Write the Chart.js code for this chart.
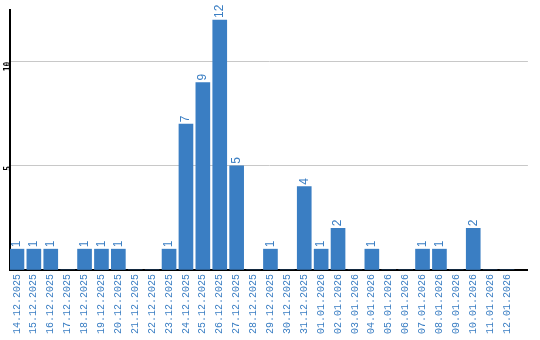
<!DOCTYPE html>
<html>
<head>
<meta charset="utf-8">
<script src="https://cdn.jsdelivr.net/npm/chart.js@4/dist/chart.umd.min.js"></script>
<style>
html,body{margin:0;padding:0;background:#fff;}
#wrap{width:540px;height:340px;position:relative;}
</style>
</head>
<body>
<div id="wrap"><canvas id="c" width="540" height="340"></canvas></div>
<script>
const categories = ["14.12.2025","15.12.2025","16.12.2025","17.12.2025","18.12.2025","19.12.2025","20.12.2025","21.12.2025","22.12.2025","23.12.2025","24.12.2025","25.12.2025","26.12.2025","27.12.2025","28.12.2025","29.12.2025","30.12.2025","31.12.2025","01.01.2026","02.01.2026","03.01.2026","04.01.2026","05.01.2026","06.01.2026","07.01.2026","08.01.2026","09.01.2026","10.01.2026","11.01.2026","12.01.2026"];
const values = [1,1,1,0,1,1,1,0,0,1,7,9,12,5,0,1,0,4,1,2,0,1,0,0,1,1,0,2,0,0];
const yTicks = [5,10];

const BLUE = '#3a7ec3';

const dataLabels = {
  id: 'dataLabels',
  afterDatasetsDraw(chart) {
    const ctx = chart.ctx;
    const meta = chart.getDatasetMeta(0);
    ctx.save();
    ctx.fillStyle = BLUE;
    ctx.font = '12px "Liberation Sans", Arial, sans-serif';
    ctx.textAlign = 'left';
    ctx.textBaseline = 'middle';
    meta.data.forEach((bar, i) => {
      const v = values[i];
      if (!v) return;
      ctx.save();
      ctx.translate(bar.x, bar.y - 2);
      ctx.rotate(-Math.PI / 2);
      ctx.fillText(String(v), 0, 0);
      ctx.restore();
    });
    ctx.restore();
  }
};

new Chart(document.getElementById('c'), {
  type: 'bar',
  data: {
    datasets: [{
      data: values.map((v, i) => ({x: i, y: v})),
      backgroundColor: BLUE,
      borderWidth: 0,
      barThickness: 14
    }]
  },
  options: {
    responsive: false,
    animation: false,
    devicePixelRatio: 1,
    layout: {padding: {top: 10, right: 9, left: 0, bottom: 0}},
    plugins: {legend: {display: false}, tooltip: {enabled: false}},
    scales: {
      x: {
        type: 'linear',
        offset: false,
        min: -7/17,
        max: -7/17 + 521/17,
        grid: {display: false, drawTicks: false},
        border: {display: true, color: '#000', width: 2},
        ticks: {
          stepSize: 1,
          includeBounds: false,
          autoSkip: false,
          minRotation: 90,
          maxRotation: 90,
          padding: 4,
          color: BLUE,
          font: {family: '"Liberation Mono", "Courier New", monospace', size: 10},
          callback: (v) => Number.isInteger(v) && categories[v] !== undefined ? categories[v] : ''
        },
        afterFit: (s) => { s.height = 70; }
      },
      y: {
        min: 0,
        max: 12.48,
        grid: {
          color: (c) => (c.tick && yTicks.includes(c.tick.value)) ? '#c8c8c8' : 'rgba(0,0,0,0)',
          lineWidth: 1,
          drawTicks: false
        },
        border: {display: true, color: '#000', width: 2},
        ticks: {
          stepSize: 5,
          includeBounds: false,
          minRotation: 90,
          maxRotation: 90,
          padding: 2,
          color: '#000',
          font: {family: '"DejaVu Sans Mono", monospace', size: 8, weight: 'bold'},
          callback: (v) => yTicks.includes(v) ? String(v) : ''
        },
        afterFit: (s) => { s.width = 10; }
      }
    }
  },
  plugins: [dataLabels]
});
</script>
</body>
</html>
